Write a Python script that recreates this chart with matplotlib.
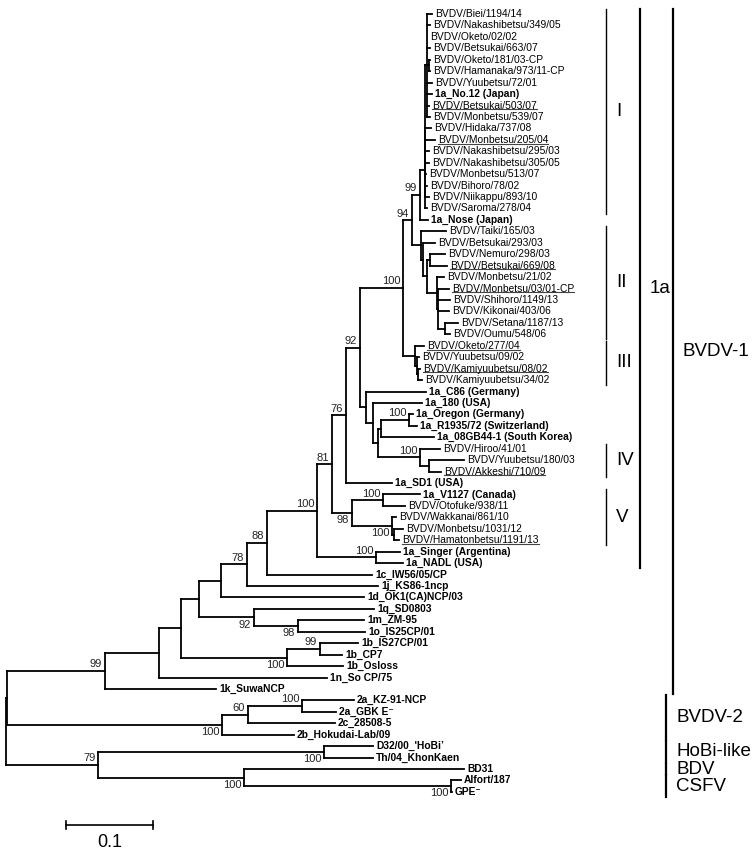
import matplotlib
matplotlib.use("Agg")
import matplotlib.pyplot as plt
from matplotlib.transforms import blended_transform_factory

plt.rcParams['font.family'] = ['Liberation Sans', 'DejaVu Sans']

# nomes das folhas, na ordem em que aparecem de cima para baixo
nomes = [
    "BVDV/Biei/1194/14", "BVDV/Nakashibetsu/349/05", "BVDV/Oketo/02/02",
    "BVDV/Betsukai/663/07", "BVDV/Oketo/181/03-CP", "BVDV/Hamanaka/973/11-CP",
    "BVDV/Yuubetsu/72/01", "1a_No.12 (Japan)", "BVDV/Betsukai/503/07",
    "BVDV/Monbetsu/539/07", "BVDV/Hidaka/737/08", "BVDV/Monbetsu/205/04",
    "BVDV/Nakashibetsu/295/03", "BVDV/Nakashibetsu/305/05", "BVDV/Monbetsu/513/07",
    "BVDV/Bihoro/78/02", "BVDV/Niikappu/893/10", "BVDV/Saroma/278/04",
    "1a_Nose (Japan)", "BVDV/Taiki/165/03", "BVDV/Betsukai/293/03",
    "BVDV/Nemuro/298/03", "BVDV/Betsukai/669/08", "BVDV/Monbetsu/21/02",
    "BVDV/Monbetsu/03/01-CP", "BVDV/Shihoro/1149/13", "BVDV/Kikonai/403/06",
    "BVDV/Setana/1187/13", "BVDV/Oumu/548/06", "BVDV/Oketo/277/04",
    "BVDV/Yuubetsu/09/02", "BVDV/Kamiyuubetsu/08/02", "BVDV/Kamiyuubetsu/34/02",
    "1a_C86 (Germany)", "1a_180 (USA)", "1a_Oregon (Germany)",
    "1a_R1935/72 (Switzerland)", "1a_08GB44-1 (South Korea)", "BVDV/Hiroo/41/01",
    "BVDV/Yuubetsu/180/03", "BVDV/Akkeshi/710/09", "1a_SD1 (USA)",
    "1a_V1127 (Canada)", "BVDV/Otofuke/938/11", "BVDV/Wakkanai/861/10",
    "BVDV/Monbetsu/1031/12", "BVDV/Hamatonbetsu/1191/13", "1a_Singer (Argentina)",
    "1a_NADL (USA)", "1c_IW56/05/CP", "1j_KS86-1ncp", "1d_OK1(CA)NCP/03",
    "1q_SD0803", "1m_ZM-95", "1o_IS25CP/01", "1b_IS27CP/01", "1b_CP7",
    "1b_Osloss", "1n_So CP/75", "1k_SuwaNCP", "2a_KZ-91-NCP", "2a_GBK E\u207b",
    "2c_28508-5", "2b_Hokudai-Lab/09", "D32/00_'HoBi\u2019", "Th/04_KhonKaen",
    "BD31", "Alfort/187", "GPE\u207b",
]

# folhas sublinhadas (indices em nomes)
sublinhados = [8, 11, 22, 24, 29, 31, 40, 46]

# arvore em newick: folhas = indice em nomes, rotulo interno = bootstrap
grupo_I = ("(((0:.0057,1:.0034,2:.0001,3:.0034,(4:.0011,5:.0011):.0023,6:.0057,"
           "7:.0057,8:.0023,9:.0034):.0017,10:.0063,11:.0109,12:.0040,13:.0040,"
           "14:.0006,15:.0017,16:.0040):.0006,17:.0023)")
grupo_II = ("(19:.0287,(20:.0138,((21:.0172,22:.0195):.0034,(23:.0080,(24:.0121,"
            "25:.0132,26:.0121,(27:.0149,28:.0057):.0075):.0017):.0115):.0046):.0023)")
grupo_III = "(29:.0103,(30:.0023,(31:.0023,32:.0046):.0011):.0023)"
grupo_ref = ("(33:.0690,(34:.0563,(((35:.0046,36:.0092)100:.0322,37:.0609):.0034,"
             "(38:.0230,(39:.0402,40:.0138):.0103)100:.0483):.0057):.0080)")
grupo_IV_V = ("((42:.0425,43:.0253)100:.0356,(44:.0046,(45:.0103,46:.0057):.0023)"
              "100:.0460)")
clado_1a = (f"(((((((({grupo_I}:.0057,18:.0092)99:.0092,{grupo_II}:.0103)94:.0103,"
            f"{grupo_III}:.0138)100:.0494,{grupo_ref}:.0069)92:.0161,41:.0529)76:.0161,"
            f"{grupo_IV_V}98:.0230)81:.0172,(47:.0276,48:.0310)100:.0678)100")
bvdv1 = (f"(((((({clado_1a}:.0575,49:.1207)88:.0230,50:.1506)78:.0299,51:.1644):.0253,"
         "(52:.1379,(53:.0759,54:.0770)98:.0506)92:.0632):.0207,"
         "((55:.0437,56:.0253)99:.0379,57:.0644)100:.1218):.0253,58:.1931):.0621,"
         "59:.1276)99")
bvdv2 = "(((60:.0598,61:.0391)100:.0621,62:.1000)60:.0299,63:.0828)100"
outros = "((64:.0563,65:.0563)100:.2598,(66:.2529,(67:.0115,68:.0011)100:.2379)100:.1678)79"
arvore = f"(({bvdv1}:.1126,{bvdv2}:.2471):.0011,{outros}:.1057);"

# bootstrap normalmente abaixo do ramo de baixo; excecoes pela 1a folha do no
inverte_suporte = [64, 38, 47]

# barras dos grupos: (rotulo, primeira folha, ultima folha, coluna)
grupos = [
    ("I", 0, 17, 0), ("II", 19, 28, 0), ("III", 29, 32, 0),
    ("IV", 38, 40, 0), ("V", 42, 46, 0),
    ("1a", 0, 48, 1), ("BVDV-1", 0, 59, 2),
    ("BVDV-2", 60, 63, 3), ("HoBi-like", 64, 65, 3),
    ("BDV", 66, 66, 3), ("CSFV", 67, 68, 3),
]
colunas_x = [606 / 756, 640 / 756, 673 / 756, 666 / 756]


def lerNewick(s):
    pos = 0

    def no():
        nonlocal pos
        filhos = []
        if s[pos] == '(':
            pos += 1
            while True:
                filhos.append(no())
                if s[pos] == ',':
                    pos += 1
                    continue
                pos += 1
                break
        ini = pos
        while s[pos] not in ',():;':
            pos += 1
        rotulo = s[ini:pos]
        comp = 0.0
        if s[pos] == ':':
            pos += 1
            ini = pos
            while s[pos] not in ',();':
                pos += 1
            comp = float(s[ini:pos])
        return {'filhos': filhos, 'rotulo': rotulo, 'comp': comp}

    return no()


def posicionar(no, x0):
    no['x'] = x0 + no['comp']
    if not no['filhos']:
        no['y'] = int(no['rotulo'])
        no['primeira'] = no['y']
    else:
        for f in no['filhos']:
            posicionar(f, no['x'])
        no['y'] = (no['filhos'][0]['y'] + no['filhos'][-1]['y']) / 2
        no['primeira'] = no['filhos'][0]['primeira']


def desenhar(ax, no, ultimo=False):
    lw = 1.3
    if not no['filhos']:
        i = no['y']
        nome = nomes[i]
        peso = 'normal' if nome.startswith('BVDV/') else 'bold'
        t = ax.annotate(nome, (no['x'], i), xytext=(2.2, 0), textcoords='offset points',
                        va='center', ha='left', fontsize=7.4, fontweight=peso)
        return [(i, t)]
    textos = []
    ax.plot([no['x'], no['x']], [no['filhos'][0]['y'], no['filhos'][-1]['y']],
            color='black', lw=lw, solid_capstyle='projecting')
    for k, f in enumerate(no['filhos']):
        ax.plot([no['x'], f['x']], [f['y'], f['y']], color='black', lw=lw,
                solid_capstyle='projecting')
        textos += desenhar(ax, f, k == len(no['filhos']) - 1)
    if no['rotulo']:
        abaixo = ultimo
        if no['primeira'] in inverte_suporte:
            abaixo = not abaixo
        ax.annotate(no['rotulo'], (no['x'], no['y']),
                    xytext=(-2, -1.5 if abaixo else 1.2), textcoords='offset points',
                    ha='right', va='top' if abaixo else 'bottom',
                    fontsize=8, color='#222222')
    return textos


raiz = lerNewick(arvore.replace(' ', ''))
posicionar(raiz, 0.0)

fig = plt.figure(figsize=(7.56, 8.5), dpi=100)
ax = fig.add_axes([0, 0, 1, 1])
ax.axis('off')
ax.set_xlim(-6 / 870, 750 / 870)
ax.set_ylim((850 - 14) / 11.44, -14 / 11.44)

textos = desenhar(ax, raiz)

# barra de escala
yb = (825 - 14) / 11.44
x0 = 60 / 870
ax.plot([x0, x0 + 0.1], [yb, yb], color='black', lw=1.2)
for xx in (x0, x0 + 0.1):
    ax.plot([xx, xx], [yb - 0.35, yb + 0.35], color='black', lw=1.2)
ax.text(x0 + 0.05, yb + 0.8, "0.1", ha='center', va='top', fontsize=13)

# barras laterais dos grupos
trans = blended_transform_factory(ax.transAxes, ax.transData)
for rotulo, a, b, col in grupos:
    xb = colunas_x[col]
    ax.plot([xb, xb], [a - 0.45, b + 0.45], color='black', transform=trans,
            lw=1.0 if col == 0 else 1.6)
    ax.text(xb + 10 / 756, (a + b) / 2, rotulo, transform=trans, ha='left',
            va='center', fontsize=13.5)

# sublinhado
fig.canvas.draw()
rend = fig.canvas.get_renderer()
inv = ax.transData.inverted()
for i, t in textos:
    if i in sublinhados:
        bb = t.get_window_extent(rend)
        (xa, ya), (xc, _) = inv.transform([(bb.x0, bb.y0 + 1.2), (bb.x1, bb.y0)])
        ax.plot([xa, xc], [ya, ya], color='#444444', lw=0.8)

fig.savefig("out.png", dpi=100)
